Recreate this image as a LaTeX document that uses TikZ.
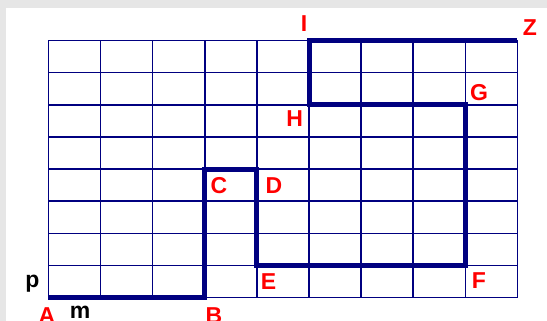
\documentclass[tikz,border=0pt]{standalone}
\usepackage{fontspec}
\setmainfont{Liberation Sans}
\definecolor{gridblue}{RGB}{0,0,128}
\definecolor{backgray}{HTML}{E6E6E6}

\begin{document}
\begin{tikzpicture}[x=52.1pt, y=32.15pt,
  gridline/.style={gridblue, line width=1.5pt},
  route/.style={gridblue, line width=5pt},
  corner/.style={red, inner sep=0pt, font=\bfseries\fontsize{23}{23}\selectfont},
  side/.style={black, inner sep=0pt, anchor=base, font=\bfseries\fontsize{23}{23}\selectfont}]
  \useasboundingbox (-48.5pt,-23.3pt) rectangle (498.5pt,297.7pt);
  \fill[backgray] (-48.5pt,-23.3pt) rectangle (498.5pt,297.7pt);
  \fill[white] (-42.5pt,-23.3pt) rectangle (498.5pt,289.7pt);
  % the grid
  \foreach \i in {0,...,9} \draw[gridline] (\i,0) -- (\i,8);
  \foreach \j in {0,...,8} \draw[gridline] (0,\j) -- (9,\j);
  % corners of the route
  \coordinate (A) at (0,0);
  \coordinate (B) at (3,0);
  \coordinate (C) at (3,4);
  \coordinate (D) at (4,4);
  \coordinate (E) at (4,1);
  \coordinate (F) at (8,1);
  \coordinate (G) at (8,6);
  \coordinate (H) at (5,6);
  \coordinate (I) at (5,8);
  \coordinate (Z) at (9,8);
  \draw[route] (A) -- (B) -- (C) -- (D) -- (E) -- (F) -- (G) -- (H) -- (I) -- (Z);
  % letters
  \node[corner, xshift=-1.5pt, yshift=-18pt] (labA) at (A) {A};
  \node[corner, xshift=9.2pt, yshift=-18pt] (labB) at (B) {B};
  \node[corner, xshift=14.2pt, yshift=-16.9pt] (labC) at (C) {C};
  \node[corner, xshift=17.1pt, yshift=-16.9pt] (labD) at (D) {D};
  \node[corner, xshift=11.6pt, yshift=-16.5pt] (labE) at (E) {E};
  \node[corner, xshift=13.7pt, yshift=-15pt] (labF) at (F) {F};
  \node[corner, xshift=13.7pt, yshift=12.3pt] (labG) at (G) {G};
  \node[corner, xshift=-14.3pt, yshift=-14.2pt] (labH) at (H) {H};
  \node[corner, xshift=-5pt, yshift=16.8pt] (labI) at (I) {I};
  \node[corner, xshift=12.6pt, yshift=12.5pt] (labZ) at (Z) {Z};
  \node[side, xshift=-16pt, yshift=9.7pt] (labp) at (A) {p};
  \node[side, xshift=31.5pt, yshift=-21.3pt] (labm) at (A) {m};
\end{tikzpicture}
\end{document}
